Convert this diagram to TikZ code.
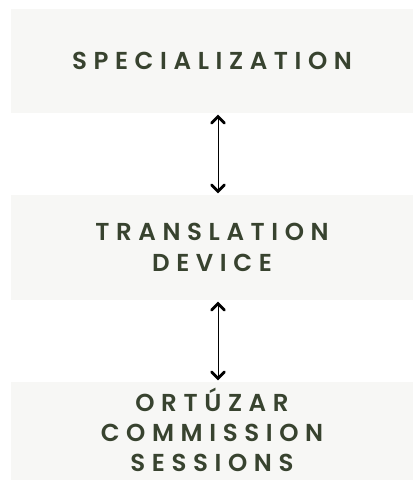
\documentclass[tikz,border=0pt]{standalone}
\usepackage{fontspec}
\newfontfamily\boxfont{Poppins SemiBold}[LetterSpace=27]
\definecolor{boxfill}{HTML}{F7F7F5}
\definecolor{boxtext}{HTML}{38432F}
\tikzset{
  panel/.style={fill=boxfill, draw=none, minimum width=402pt, inner sep=0pt,
    text=boxtext, align=center, font=\boxfont\fontsize{24.5}{31}\selectfont},
  link/.style={draw=black, line width=0.8pt},
  chevron/.style={draw=black, line width=2.8pt, line cap=round, line join=miter}
}
\begin{document}
\begin{tikzpicture}[x=1pt,y=-1pt]
\useasboundingbox (0,0) rectangle (413,480);
\node[panel, minimum height=104pt] (spec) at (212,61) {SPECIALIZATION};
\node[panel, minimum height=105pt] (trans) at (212,247.5) {TRANSLATION\\DEVICE};
\node[panel, minimum height=98pt] (ortu) at (212,431) {};
\node[text=boxtext, align=center, font=\boxfont\fontsize{24.5}{30}\selectfont, inner sep=0pt, text depth=0pt] (ortutext) at (212,430) {ORTÚZAR\\COMMISSION\\SESSIONS};
\coordinate (a1) at ([xshift=6pt,yshift=-3.5pt]spec.south);
\coordinate (b1) at ([xshift=6pt,yshift=3.5pt]trans.north);
\coordinate (a2) at ([xshift=6pt,yshift=-3.5pt]trans.south);
\coordinate (b2) at ([xshift=6pt,yshift=3.5pt]ortu.north);
\draw[link] (a1) -- (b1);
\draw[link] (a2) -- (b2);
\draw[chevron] (a1) +(-6.5,6.5) -- (a1) -- +(6.5,6.5);
\draw[chevron] (b1) +(-6.5,-6.5) -- (b1) -- +(6.5,-6.5);
\draw[chevron] (a2) +(-6.5,6.5) -- (a2) -- +(6.5,6.5);
\draw[chevron] (b2) +(-6.5,-6.5) -- (b2) -- +(6.5,-6.5);
\end{tikzpicture}
\end{document}
